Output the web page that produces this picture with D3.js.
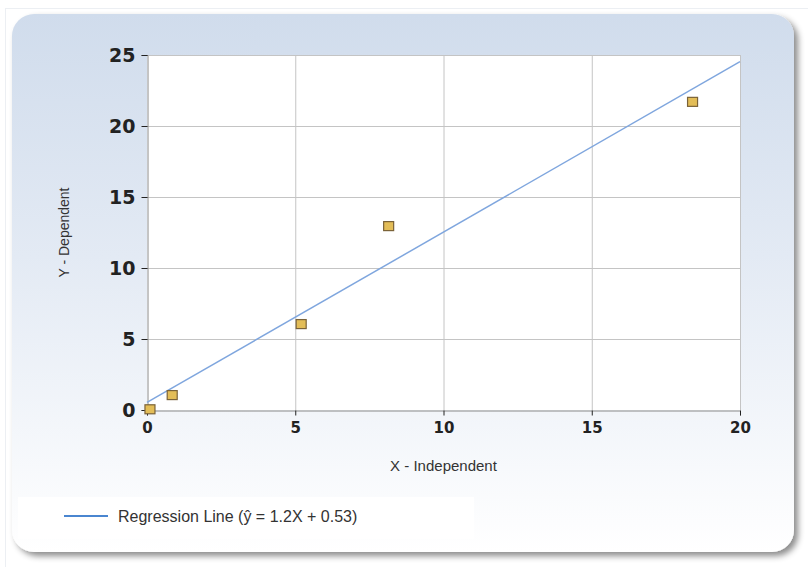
<!DOCTYPE html>
<html>
<head>
<meta charset="utf-8">
<script src="https://cdn.jsdelivr.net/npm/d3@7"></script>
<style>
  body { margin: 0; background: #fff; }
  svg { display: block; }
</style>
</head>
<body>
<div id="chart"></div>
<script>
const xValues = [0.1, 0.85, 5.2, 8.15, 18.4]
const yValues = [0.05, 1.05, 6.05, 12.95, 21.7]
// regression line y = slope * x + intercept
const slope = 1.2
const intercept = 0.53
const xTicks = [0, 5, 10, 15, 20]
const yTicks = [0, 5, 10, 15, 20, 25]
const legendLabel = "Regression Line (\u0177 = 1.2X + 0.53)"

const W = 808, H = 567
const plot = {left: 147, right: 740, top: 55, bottom: 410}

const svg = d3.select("#chart")
  .append("svg")
  .attr("width", W)
  .attr("height", H)

const defs = svg.append("defs")
const grad = defs.append("linearGradient")
  .attr("id", "cardGrad")
  .attr("x1", 0).attr("y1", 0).attr("x2", 0).attr("y2", 1)
grad.append("stop").attr("offset", "0%").attr("stop-color", "#d0dcec")
grad.append("stop").attr("offset", "45%").attr("stop-color", "#e3eaf4")
grad.append("stop").attr("offset", "100%").attr("stop-color", "#ffffff")

const blur = defs.append("filter").attr("id", "shadow")
  .attr("x", "-5%").attr("y", "-5%").attr("width", "115%").attr("height", "115%")
blur.append("feDropShadow")
  .attr("dx", 4).attr("dy", 4).attr("stdDeviation", 3)
  .attr("flood-color", "#000").attr("flood-opacity", 0.45)

// faint outer frame
svg.append("rect")
  .attr("x", 5.5).attr("y", 8.5)
  .attr("width", W - 4).attr("height", H)
  .attr("fill", "none")
  .attr("stroke", "#eceff3")

// card
svg.append("rect")
  .attr("x", 12).attr("y", 14)
  .attr("width", 782).attr("height", 538)
  .attr("rx", 22).attr("ry", 22)
  .attr("fill", "url(#cardGrad)")
  .attr("filter", "url(#shadow)")

const x = d3.scaleLinear().domain([0, 20]).range([plot.left, plot.right])
const y = d3.scaleLinear().domain([0, 25]).range([plot.bottom, plot.top])

// plot area
svg.append("rect")
  .attr("x", plot.left).attr("y", plot.top)
  .attr("width", plot.right - plot.left).attr("height", plot.bottom - plot.top)
  .attr("fill", "#fff")

const grid = svg.append("g")
grid.selectAll("line.v")
  .data(xTicks.slice(1))
  .enter().append("line")
  .attr("x1", d => x(d) + 0.5).attr("x2", d => x(d) + 0.5)
  .attr("y1", plot.top).attr("y2", plot.bottom)
  .attr("stroke", "#c4c4c4")
grid.selectAll("line.h")
  .data(yTicks.slice(1))
  .enter().append("line")
  .attr("x1", plot.left).attr("x2", plot.right)
  .attr("y1", d => y(d) + 0.5).attr("y2", d => y(d) + 0.5)
  .attr("stroke", "#c4c4c4")

// axes
const xAxis = svg.append("g")
  .attr("transform", `translate(0,${plot.bottom + 0.5})`)
  .call(d3.axisBottom(x).tickValues(xTicks).tickSize(5).tickPadding(7))
xAxis.select(".domain").attr("stroke", "#8a8a8a")
xAxis.selectAll(".tick line").attr("stroke", "#222")
xAxis.selectAll("text")
  .attr("font-family", "Verdana, 'DejaVu Sans', sans-serif")
  .attr("font-weight", "bold")
  .attr("font-size", 15)
  .attr("fill", "#222")

const yAxis = svg.append("g")
  .attr("transform", `translate(${plot.left + 0.5},0)`)
  .call(d3.axisLeft(y).tickValues(yTicks).tickSize(6).tickPadding(6))
yAxis.select(".domain").attr("stroke", "#8a8a8a")
yAxis.selectAll(".tick line").attr("stroke", "#222")
yAxis.selectAll("text")
  .attr("font-family", "'DejaVu Sans', Verdana, sans-serif")
  .attr("font-weight", "bold")
  .attr("font-size", 19)
  .attr("fill", "#222")

// regression line
svg.append("line")
  .attr("x1", x(0)).attr("y1", y(intercept))
  .attr("x2", x(20)).attr("y2", y(slope * 20 + intercept))
  .attr("stroke", "#7fa6de")
  .attr("stroke-width", 1.5)

// points
svg.selectAll("rect.pt")
  .data(xValues.map((v, i) => ({x: v, y: yValues[i]})))
  .enter().append("rect")
  .attr("class", "pt")
  .attr("x", d => x(d.x) - 5)
  .attr("y", d => y(d.y) - 4.5)
  .attr("width", 10).attr("height", 9)
  .attr("fill", "#e3bd57")
  .attr("stroke", "#7a6238")
  .attr("stroke-width", 1.2)

// axis titles
svg.append("text")
  .attr("x", (plot.left + plot.right) / 2)
  .attr("y", 471)
  .attr("text-anchor", "middle")
  .attr("font-family", "'Liberation Sans', Arial, sans-serif")
  .attr("font-size", 15)
  .attr("fill", "#333")
  .text("X - Independent")

svg.append("text")
  .attr("transform", `translate(69,${(plot.top + plot.bottom) / 2}) rotate(-90)`)
  .attr("text-anchor", "middle")
  .attr("font-family", "'Liberation Sans Narrow', 'Liberation Sans', Arial, sans-serif")
  .attr("font-size", 14)
  .attr("fill", "#333")
  .text("Y - Dependent")

// legend
const legend = svg.append("g")
legend.append("rect")
  .attr("x", 18).attr("y", 497)
  .attr("width", 456).attr("height", 42)
  .attr("fill", "#fff")
  .attr("opacity", 0.9)
legend.append("line")
  .attr("x1", 64).attr("x2", 108)
  .attr("y1", 516).attr("y2", 516)
  .attr("stroke", "#4a86d0")
  .attr("stroke-width", 2)
legend.append("text")
  .attr("x", 118).attr("y", 522)
  .attr("font-family", "'Liberation Sans', Arial, sans-serif")
  .attr("font-size", 16)
  .attr("fill", "#333")
  .text(legendLabel)
</script>
</body>
</html>
